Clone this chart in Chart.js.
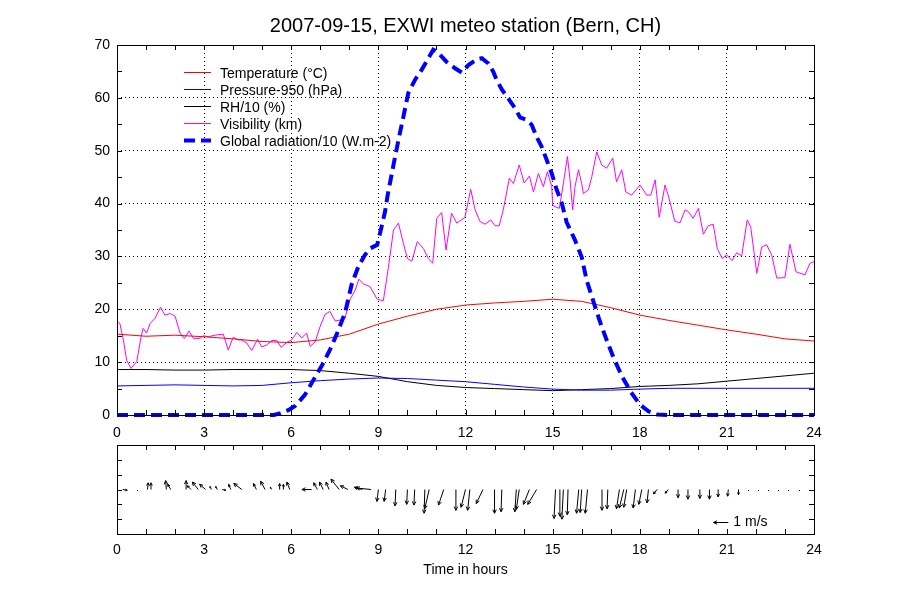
<!DOCTYPE html>
<html>
<head>
<meta charset="utf-8">
<script src="https://cdn.jsdelivr.net/npm/chart.js@4.4.1/dist/chart.umd.min.js"></script>
<style>
  body { margin: 0; background: #fff; }
  #wrap { position: relative; width: 900px; height: 600px; }
  canvas { position: absolute; left: 0; }
  #top { top: 0; }
  #bot { top: 440px; }
</style>
</head>
<body>
<div id="wrap">
  <canvas id="top" width="900" height="440"></canvas>
  <canvas id="bot" width="900" height="160"></canvas>
</div>
<script>
'use strict';

// hourly series
var hours = [0, 1, 2, 3, 4, 5, 6, 7, 8, 9, 10, 11, 12, 13, 14, 15, 16, 17, 18, 19, 20, 21, 22, 23, 24];
var tempValue = [15.3, 14.9, 15.1, 14.8, 14.4, 13.9, 13.7, 14.2, 15.3, 17.2, 18.7, 20.0, 20.8, 21.2, 21.5, 21.9, 21.5, 20.3, 18.9, 17.9, 17.0, 16.1, 15.3, 14.4, 14.0];
var presValue = [5.5, 5.6, 5.7, 5.6, 5.5, 5.6, 6.1, 6.5, 6.8, 7.0, 6.9, 6.6, 6.3, 5.8, 5.3, 4.9, 4.7, 4.7, 4.9, 5.05, 5.05, 5.05, 5.05, 5.05, 5.05];
var rhValue = [8.6, 8.6, 8.5, 8.5, 8.6, 8.6, 8.6, 8.4, 7.9, 7.3, 6.3, 5.6, 5.2, 5.0, 4.8, 4.6, 4.8, 5.0, 5.4, 5.6, 5.9, 6.4, 6.9, 7.4, 7.9];

// visibility (km), read at the turning points
var visTime = [0, 0.1, 0.22, 0.33, 0.48, 0.68, 0.83, 0.9, 1.02, 1.14, 1.31, 1.5, 1.65, 1.83, 2.0, 2.17, 2.32, 2.48, 2.63, 2.86,
  2.97, 3.15, 3.37, 3.66, 3.83, 4.0, 4.18, 4.29, 4.47, 4.64, 4.84, 4.98, 5.15, 5.33, 5.5, 5.65, 5.84, 6.01, 6.13, 6.19,
  6.36, 6.53, 6.65, 6.82, 6.99, 7.16, 7.33, 7.51, 7.74, 7.85, 8.02, 8.2, 8.33, 8.48, 8.71, 8.96, 9.17, 9.34, 9.52, 9.69,
  9.86, 10.0, 10.15, 10.34, 10.55, 10.72, 10.87, 11.01, 11.18, 11.33, 11.52, 11.7, 11.98, 12.18, 12.33, 12.5, 12.67, 12.87, 13.02, 13.16,
  13.3, 13.51, 13.65, 13.85, 14.02, 14.2, 14.34, 14.51, 14.68, 14.82, 14.97, 15.0, 15.08, 15.23, 15.37, 15.51, 15.6, 15.69, 15.77, 15.89,
  16.0, 16.06, 16.23, 16.35, 16.52, 16.69, 16.86, 17.07, 17.2, 17.38, 17.52, 17.72, 18.01, 18.24, 18.38, 18.53, 18.67, 18.87, 18.98, 19.21,
  19.39, 19.56, 19.67, 19.84, 20.02, 20.19, 20.36, 20.53, 20.67, 20.84, 20.99, 21.18, 21.34, 21.51, 21.7, 21.82, 22.03, 22.2, 22.37, 22.54,
  22.72, 23.0, 23.17, 23.38, 23.69, 23.86, 24.0];
var visValue = [17.8, 17.3, 14.2, 10.4, 8.8, 10.1, 14.8, 16.4, 15.5, 17.3, 18.3, 20.4, 18.9, 19.2, 18.7, 15.5, 14.5, 15.9, 14.5, 14.5,
  15.0, 14.8, 15.1, 15.3, 12.3, 14.7, 14.2, 14.2, 13.6, 12.2, 14.3, 12.9, 13.2, 14.1, 14.1, 12.8, 13.7, 14.2, 15.1, 15.6,
  14.6, 15.5, 13.0, 13.8, 16.7, 19.0, 19.6, 17.8, 18.0, 18.3, 21.8, 23.6, 25.7, 24.8, 24.3, 21.9, 21.6, 27.7, 35.0, 36.3,
  32.5, 29.6, 29.1, 32.8, 31.5, 29.6, 28.7, 37.2, 38.3, 31.2, 38.2, 36.3, 37.4, 42.7, 38.8, 36.6, 36.1, 36.9, 35.8, 35.8,
  38.8, 44.8, 43.8, 47.3, 43.9, 45.2, 42.2, 45.7, 43.2, 46.0, 43.2, 39.7, 39.4, 39.1, 43.8, 48.9, 44.5, 38.8, 43.2, 46.4,
  43.8, 41.9, 42.6, 45.1, 49.8, 47.3, 46.7, 48.6, 44.1, 46.4, 42.2, 41.6, 43.5, 41.6, 41.6, 44.5, 37.4, 43.5, 41.6, 36.6,
  36.4, 38.8, 38.5, 37.2, 39.1, 34.2, 35.8, 36.1, 31.5, 29.6, 30.3, 29.2, 30.7, 30.1, 36.9, 35.6, 26.8, 31.8, 32.2, 30.3,
  25.9, 26.0, 32.3, 27.1, 26.5, 28.7, 29.0];

// global radiation / 10
var radTime = [0, 5.4, 5.61, 5.9, 6.13, 6.47, 6.76, 7.05, 7.33, 7.56, 7.85, 8.08, 8.31, 8.54, 8.71, 8.96, 9.11, 9.23, 9.32, 9.52,
  9.69, 9.86, 10.03, 10.26, 10.49, 10.72, 10.89, 11.03, 11.35, 11.64, 11.87, 12.1, 12.39, 12.56, 12.79, 12.96, 13.07, 13.25, 13.47, 13.71,
  13.88, 14.11, 14.28, 14.45, 14.62, 14.8, 14.97, 15.14, 15.31, 15.48, 15.77, 16.0, 16.17, 16.35, 16.52, 16.69, 16.86, 17.1, 17.4, 17.7,
  18.0, 18.3, 18.6, 19.0, 24.0];
var radValue = [0, 0, 0.3, 0.9, 1.7, 3.8, 6.6, 9.3, 12.3, 15.2, 19.3, 24.7, 28.1, 30.3, 31.5, 32.2, 35.6, 38.5, 41.6, 47.3,
  52.0, 56.4, 60.9, 63.4, 65.3, 67.5, 69.1, 68.7, 66.8, 65.6, 64.8, 66.2, 67.3, 67.5, 66.5, 64.9, 63.4, 61.6, 59.9, 58.0,
  56.3, 55.8, 54.9, 52.6, 50.8, 48.2, 45.7, 42.6, 40.2, 36.5, 33.1, 29.9, 25.5, 22.4, 19.5, 16.7, 14.2, 10.8, 7.2, 4.3,
  2.0, 0.7, 0.1, 0, 0];

// wind vectors (m/s): east component u, north component v
var windTime = [0.2, 0.7, 1.05, 1.17, 1.7, 1.85, 2.38, 2.55, 2.8, 3.05, 3.25, 3.45, 3.62, 3.92, 4.3, 4.8, 5.1, 5.33, 5.6, 5.73,
  5.95, 6.7, 6.9, 7.1, 7.3, 7.65, 7.95, 8.45, 8.75,
  9.0, 9.25, 9.6, 10.0, 10.25, 10.6, 10.75, 11.25, 11.67, 12.0, 12.15, 12.6, 13.0, 13.25, 13.75, 13.85, 14.2, 14.45,
  15.1, 15.25, 15.37, 15.53, 15.9, 16.0, 16.2, 16.7, 16.9, 17.3, 17.45, 17.55, 17.85, 18.07, 18.3, 18.6, 18.98,
  19.32, 19.66, 20.07, 20.4, 20.7, 21.05, 21.4, 21.73, 22.07, 22.42, 22.76, 23.1, 23.5, 23.86];
var windU = [0.3, 0, 0.05, 0, -0.05, -0.2, 0, -0.25, -0.4, -0.4, -0.1, -0.1, 0.25, -0.15, -0.55, -0.2, -0.3, -0.1, 0, 0,
  -0.2, -0.65, -0.25, -0.25, -0.2, -0.55, -0.5, -0.55, -1.0,
  -0.1, -0.1, -0.05, -0.05, -0.05, -0.05, -0.3, -0.35, 0, -0.3, -0.15, -0.45, 0, -0.05, -0.1, -0.2, -0.4, -0.6,
  -0.1, 0, -0.1, -0.05, -0.15, -0.1, -0.15, 0, -0.05, -0.2, -0.3, -0.2, -0.15, -0.2, -0.1, -0.25, -0.2,
  0, 0, 0, 0, 0, -0.05, 0, 0, 0, 0, 0, 0, 0, 0];
var windV = [-0.05, 0, 0.45, 0.45, 0.6, 0.35, 0.6, 0.25, 0.5, 0.35, 0.2, 0.2, -0.05, 0.35, 0.4, 0.4, 0.55, 0.15, 0.4, 0.35,
  0.5, 0, 0.45, 0.5, 0.5, 0.7, 0.25, 0.15, 0.1,
  -0.8, -0.8, -1.1, -1.0, -1.05, -1.6, -1.3, -1.05, -1.4, -1.2, -1.4, -0.95, -1.6, -1.5, -1.5, -1.35, -1.0, -1.0,
  -1.95, -1.8, -2.0, -1.7, -1.6, -1.55, -1.6, -1.4, -1.3, -1.3, -1.25, -1.2, -1.25, -1.0, -0.9, -0.3, -0.25,
  -0.55, -0.65, -0.6, -0.65, -0.5, -0.45, -0.35, 0, 0, 0, 0, 0, 0, 0];

var hourTicks = 3;

Chart.defaults.font.family = '"Liberation Sans", Arial, Helvetica, sans-serif';
Chart.defaults.font.size = 14;
Chart.defaults.color = '#000';

function pts(xs, ys) {
  var out = [];
  for (var i = 0; i < xs.length; i++) {
    out.push({x: xs[i], y: ys[i]});
  }
  return out;
}

// frame round the plot area, with small ticks pointing inward on all sides
var frameTicks = {
  id: 'frameTicks',
  afterDraw: function(chart, args, opts) {
    var ctx = chart.ctx;
    var a = chart.chartArea;
    var x = chart.scales.x, y = chart.scales.y;
    var i, v, p;
    ctx.save();
    ctx.strokeStyle = '#000';
    ctx.lineWidth = 1;
    ctx.beginPath();
    for (i = 0; i <= Math.round((x.max - x.min) / opts.xStep); i++) {
      v = x.min + i * opts.xStep;
      p = Math.round(x.getPixelForValue(v)) + 0.5;
      ctx.moveTo(p, a.top); ctx.lineTo(p, a.top + opts.len);
      ctx.moveTo(p, a.bottom); ctx.lineTo(p, a.bottom - opts.len);
    }
    for (i = 0; i <= Math.round((y.max - y.min) / opts.yStep); i++) {
      v = y.min + i * opts.yStep;
      p = Math.round(y.getPixelForValue(v)) + 0.5;
      ctx.moveTo(a.left, p); ctx.lineTo(a.left + opts.len, p);
      ctx.moveTo(a.right, p); ctx.lineTo(a.right - opts.len, p);
    }
    ctx.stroke();
    ctx.strokeRect(Math.round(a.left) + 0.5, Math.round(a.top) + 0.5,
      Math.round(a.right - a.left), Math.round(a.bottom - a.top));
    ctx.restore();
  }
};

// legend drawn inside the plot, one short line sample per dataset
var insideLegend = {
  id: 'insideLegend',
  afterDraw: function(chart) {
    var ctx = chart.ctx;
    var a = chart.chartArea;
    ctx.save();
    ctx.font = '14px "Liberation Sans", Arial, Helvetica, sans-serif';
    ctx.textBaseline = 'middle';
    chart.data.datasets.forEach(function(ds, i) {
      var yy = Math.round(a.top + 27 + i * 17) + 0.5;
      var xx = a.left + 67;
      ctx.strokeStyle = ds.borderColor;
      ctx.lineWidth = ds.borderWidth;
      ctx.setLineDash(ds.borderDash || []);
      ctx.beginPath();
      ctx.moveTo(xx, yy);
      ctx.lineTo(xx + 27, yy);
      ctx.stroke();
      ctx.setLineDash([]);
      ctx.fillStyle = '#000';
      ctx.fillText(ds.label, xx + 36, yy + 1.5);
    });
    ctx.restore();
  }
};

function drawArrow(ctx, x0, y0, x1, y1) {
  var dx = x1 - x0, dy = y1 - y0;
  var len = Math.sqrt(dx * dx + dy * dy);
  if (len < 1.5) {
    ctx.fillRect(Math.round(x0), Math.round(y0), 1, 1);
    return;
  }
  var ang = Math.atan2(dy, dx);
  var h = Math.min(4, len * 0.45);
  ctx.beginPath();
  ctx.moveTo(x0, y0);
  ctx.lineTo(x1, y1);
  ctx.moveTo(x1, y1);
  ctx.lineTo(x1 - h * Math.cos(ang - 0.45), y1 - h * Math.sin(ang - 0.45));
  ctx.moveTo(x1, y1);
  ctx.lineTo(x1 - h * Math.cos(ang + 0.45), y1 - h * Math.sin(ang + 0.45));
  ctx.stroke();
}

// wind arrows from the zero line, 1 m/s = one unit of the y scale
var windArrows = {
  id: 'windArrows',
  afterDatasetsDraw: function(chart) {
    var ctx = chart.ctx;
    var x = chart.scales.x, y = chart.scales.y;
    var unit = y.getPixelForValue(0) - y.getPixelForValue(1);
    var y0 = y.getPixelForValue(0);
    ctx.save();
    ctx.strokeStyle = '#000';
    ctx.fillStyle = '#000';
    ctx.lineWidth = 1;
    for (var i = 0; i < windTime.length; i++) {
      var x0 = x.getPixelForValue(windTime[i]);
      drawArrow(ctx, x0, y0, x0 + windU[i] * unit, y.getPixelForValue(windV[i]));
    }
    // key: 1 m/s
    var kx = x.getPixelForValue(21.05);
    var ky = Math.round(y.getPixelForValue(-2.2)) + 0.5;
    drawArrow(ctx, kx, ky, kx - unit, ky);
    ctx.font = '14px "Liberation Sans", Arial, Helvetica, sans-serif';
    ctx.textBaseline = 'middle';
    ctx.fillText('1 m/s', kx + 5, ky);
    ctx.restore();
  }
};

var dotted = {color: '#000', lineWidth: 1, drawTicks: false};

var topChart = new Chart(document.getElementById('top'), {
  type: 'line',
  data: {
    datasets: [
      {label: 'Temperature (\u00B0C)', data: pts(hours, tempValue), borderColor: '#ff0000', borderWidth: 1, order: 2},
      {label: 'Pressure-950 (hPa)', data: pts(hours, presValue), borderColor: '#0000ff', borderWidth: 1, order: 3},
      {label: 'RH/10 (%)', data: pts(hours, rhValue), borderColor: '#000000', borderWidth: 1, order: 4},
      {label: 'Visibility (km)', data: pts(visTime, visValue), borderColor: '#ff00ff', borderWidth: 1, order: 5},
      {label: 'Global radiation/10 (W.m-2)', data: pts(radTime, radValue), borderColor: '#0000ff', borderWidth: 4,
        borderDash: [11, 6], order: 1, clip: false}
    ]
  },
  options: {
    responsive: false,
    animation: false,
    events: [],
    elements: {point: {radius: 0}, line: {tension: 0, fill: false}},
    layout: {padding: {left: 0, right: 86, top: 0, bottom: 0}},
    scales: {
      x: {
        type: 'linear', min: 0, max: 24,
        ticks: {stepSize: hourTicks, padding: 10},
        grid: dotted,
        border: {display: false, dash: [1, 3]},
        afterFit: function(s) { s.height = 25; }
      },
      y: {
        min: 0, max: 70,
        ticks: {stepSize: 10, padding: 7},
        grid: dotted,
        border: {display: false, dash: [1, 3]},
        afterFit: function(s) { s.width = 117; }
      }
    },
    plugins: {
      legend: {display: false},
      tooltip: {enabled: false},
      title: {
        display: true,
        fullSize: false,
        text: '2007-09-15, EXWI meteo station (Bern, CH)',
        font: {size: 20, weight: 'normal'},
        color: '#000',
        padding: {top: 14, bottom: 7}
      },
      frameTicks: {xStep: 1, yStep: 5, len: 5}
    }
  },
  plugins: [frameTicks, insideLegend]
});

var botChart = new Chart(document.getElementById('bot'), {
  type: 'scatter',
  data: {
    datasets: [{label: 'Wind', data: pts(windTime, windTime.map(function() { return 0; })), pointRadius: 0}]
  },
  options: {
    responsive: false,
    animation: false,
    events: [],
    layout: {padding: {left: 0, right: 86, top: 5, bottom: 0}},
    scales: {
      x: {
        type: 'linear', min: 0, max: 24,
        ticks: {stepSize: hourTicks, padding: 8},
        grid: {display: false, drawTicks: false},
        border: {display: false},
        title: {display: true, text: 'Time in hours', font: {size: 14}, padding: {top: 0, bottom: 21}},
        afterFit: function(s) { s.height = 66; }
      },
      y: {
        min: -3, max: 3,
        ticks: {display: false},
        grid: {display: false, drawTicks: false},
        border: {display: false},
        afterFit: function(s) { s.width = 117; }
      }
    },
    plugins: {
      legend: {display: false},
      tooltip: {enabled: false},
      frameTicks: {xStep: 1, yStep: 1, len: 5}
    }
  },
  plugins: [frameTicks, windArrows]
});
</script>
</body>
</html>
